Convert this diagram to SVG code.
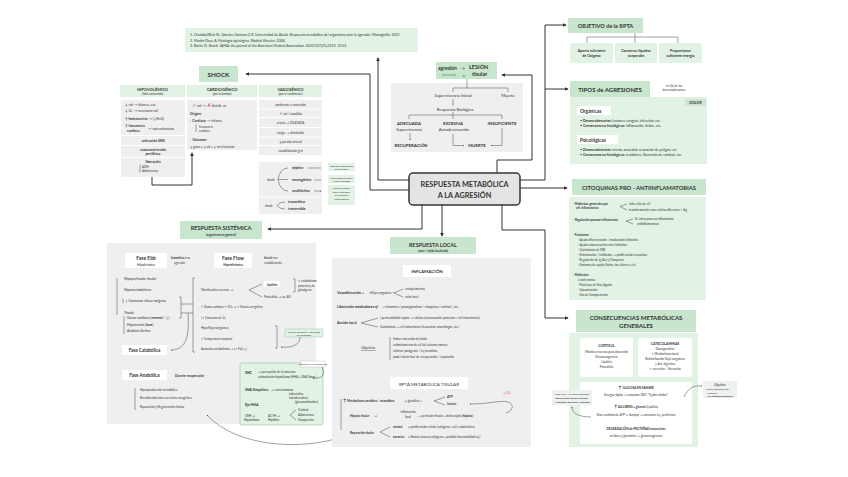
<svg xmlns="http://www.w3.org/2000/svg" width="848" height="477" viewBox="0 0 848 477">
<defs>
<marker id="ah" viewBox="0 0 6 6" refX="5" refY="3" markerWidth="4" markerHeight="4" orient="auto-start-reverse"><path d="M0,0 L6,3 L0,6 z" fill="#333"/></marker>
<marker id="as" viewBox="0 0 6 6" refX="5" refY="3" markerWidth="3" markerHeight="3" orient="auto-start-reverse"><path d="M0,0 L6,3 L0,6 z" fill="#444"/></marker>
<style>
text{font-family:Lato,'Liberation Sans',sans-serif;fill:#333}
.c{text-anchor:middle}
.b{font-weight:700}
.t6{font-size:6px;font-weight:700}
.t5{font-size:5px;font-weight:700}
.t4{font-size:4.2px}
.s{font-size:3.5px}
.xs{font-size:3px}
.gt{fill:#c8e6ce}
.gl{fill:#e2f2e4}
.gr{fill:#efefef}
.wh{fill:#fff}
.ln{fill:none;stroke:#333;stroke-width:1}
.tn{fill:none;stroke:#444;stroke-width:0.5}
.grn{fill:#3f8a55}
.red{fill:#d23a3a}
</style>
</defs>
<rect width="848" height="477" fill="#fff"/>

<g id="connectors" class="ln">
 <path d="M409,180 H378 V58" marker-end="url(#ah)"/>
 <path d="M409,190 H370 V74 H246" marker-end="url(#ah)"/>
 <path d="M497,173 V160 H532 V75 H502" marker-end="url(#ah)"/>
 <path d="M520,180 H545 V25 H566" marker-end="url(#ah)"/>
 <path d="M545,89 H568" marker-end="url(#ah)"/>
 <path d="M520,188 H567" marker-end="url(#ah)"/>
 <path d="M502,205 V230 H545 V318 H568" marker-end="url(#ah)"/>
 <path d="M422,205 V229 H268" marker-end="url(#ah)"/>
 <path d="M442,205 V236" marker-end="url(#ah)"/>
</g>

<g id="referencias">
 <rect x="185" y="28" width="233" height="24" class="gl"/>
 <text x="190" y="36" class="s">1. Cristóbal Bleír N., Sánchez Santana C.R. Universidad de Alcalá. Respuesta metabólica del organismo ante la agresión. Monografía. 2015</text>
 <text x="190" y="41.5" class="s">2. Martín-Duce A. Patología quirúrgica. Madrid: Elsevier, 2004.</text>
 <text x="190" y="47" class="s">3. Roche D. Shock. JAMA: the journal of the American Medical Association. 2022;327(21):2153- 2153.</text>
</g>

<g id="centro">
 <rect x="409" y="173" width="111" height="32" rx="4" fill="#e4e4e4" stroke="#333" stroke-width="1.5"/>
 <text x="464.5" y="186.5" class="c b" font-size="7.3">RESPUESTA METABÓLICA</text>
 <text x="464.5" y="197.5" class="c b" font-size="7.3">A LA AGRESIÓN</text>
</g>

<g id="agresion">
 <rect x="391" y="83" width="132" height="69" class="gr"/>
 <rect x="436" y="62" width="61" height="17" class="gt"/>
 <text x="438" y="70" class="b" font-size="5">agresión</text>
 <text x="460" y="70" font-size="5">→</text>
 <text x="469" y="69" class="b" font-size="5.5">LESIÓN</text>
 <text x="442" y="76" class="xs grn">(necesaria)</text>
 <text x="462" y="76.5" class="xs grn">ap</text>
 <text x="472" y="76" class="b" font-size="5.5">tisular</text>
 <path class="tn" d="M467,79 V88 M453,88 H508 M453,88 V92 M508,88 V92 M453,99 V106 M453,112 V115 M409,115 H502 M409,115 V119 M453,115 V119 M502,115 V119"/>
 <text x="453" y="97" class="c t4">Supervivencia Inicial</text>
 <text x="508" y="97" class="c t4">Muerte</text>
 <text x="455" y="111" class="c t4">Respuesta Biológica</text>
 <text x="409" y="125" class="c b" font-size="4.3">ADECUADA</text>
 <text x="409" y="131" class="c t4">Supervivencia</text>
 <path class="tn" d="M410,133 V140" marker-end="url(#as)"/>
 <text x="411" y="147" class="c b" font-size="4.3">RECUPERACIÓN</text>
 <text x="453" y="125" class="c b" font-size="4.3">EXCESIVA</text>
 <text x="454" y="131" class="c t4">Autodestrucción</text>
 <text x="502" y="125" class="c b" font-size="4.3">INSUFICIENTE</text>
 <text x="477" y="147" class="c b" font-size="4.3">MUERTE</text>
 <path class="tn" d="M453,134 V145.5 H464" marker-end="url(#as)"/>
 <path class="tn" d="M502,128 V145.5 H491" marker-end="url(#as)"/>
</g>

<g id="shock">
 <rect x="199" y="66" width="39" height="16" class="gt"/>
 <text x="218.5" y="76.5" class="c b" font-size="6.3">SHOCK</text>
 <rect x="120" y="85" width="65" height="12" class="gl"/>
 <text x="152.5" y="90.5" class="c b" font-size="4">HIPOVOLÉMICO</text>
 <text x="152.5" y="95" class="c xs">(falta contenido)</text>
 <rect x="187" y="85" width="70" height="12" class="gl"/>
 <text x="222" y="90.5" class="c b" font-size="4">CARDIOGÉNICO</text>
 <text x="222" y="95" class="c xs">(por la bomba)</text>
 <rect x="259" y="85" width="63" height="12" class="gl"/>
 <text x="290.5" y="90.5" class="c b" font-size="4">VASOGÉNICO</text>
 <text x="290.5" y="95" class="c xs">(por el continente)</text>

 <rect x="121" y="100" width="64" height="77" class="gr"/>
 <path d="M121,135.5 H185 M121,145.5 H185 M121,157.5 H185" stroke="#fff" stroke-width="1"/>
 <text x="125" y="106" class="s"><tspan class="b">↓</tspan> vol → diarrea, etc.</text>
 <text x="125" y="112" class="s"><tspan class="b">↓</tspan> O₂ → necesario vol</text>
 <text x="125" y="120" class="s"><tspan class="b">↑ hematocrito</tspan> → (↓H₂O)</text>
 <text x="125" y="127" class="s b">↑ frecuencia</text>
 <text x="127" y="131.5" class="s b">cardíaca</text>
 <text x="148" y="129.5" class="s">→ catecolaminas</text>
 <text x="153" y="142" class="c s b">activación SNS</text>
 <text x="153" y="150.5" class="c s b">vasoconstricción</text>
 <text x="153" y="155" class="c s b">periférica</text>
 <text x="153" y="162.5" class="c s b">liberación</text>
 <path class="tn" d="M140,164.5 V172.5"/>
 <text x="142" y="167.5" class="xs">ADH</text>
 <text x="142" y="172" class="xs">Aldosterona</text>
 <path class="ln" d="M152,177 V185 H192 V153" marker-end="url(#ah)"/>

 <rect x="187" y="100" width="70" height="50" class="gr"/>
 <text x="192" y="107" class="s"><tspan class="grn" font-size="5">✓</tspan> vol → <tspan class="red" font-size="5">✗</tspan> distrib. ac</text>
 <text x="190" y="114.5" class="s b">Origen:</text>
 <text x="190" y="121.5" class="s">- <tspan class="b">Cardíaco</tspan> → infarto</text>
 <path class="tn" d="M196,124.5 V132"/>
 <text x="199" y="127.5" class="xs">frecuencia</text>
 <text x="199" y="132" class="xs">cardíaca</text>
 <text x="190" y="140.5" class="s">- <tspan class="b">Volumen:</tspan></text>
 <text x="190" y="147.5" class="xs"><tspan class="b">↓</tspan> gasto = <tspan class="b">↓</tspan> vol = <tspan class="b">↓</tspan> vol al corazón</text>

 <rect x="259" y="100" width="63" height="55" class="gr"/>
 <path d="M259,109 H322 M259,117.5 H322 M259,127.5 H322 M259,137 H322 M259,145.5 H322" stroke="#fff" stroke-width="1"/>
 <text x="290.5" y="106" class="c xs">continente ≠ contenido</text>
 <text x="290.5" y="114.5" class="c xs"><tspan class="grn" font-size="5">✓</tspan> vol / vasodilat.</text>
 <text x="290.5" y="124" class="c xs">arteria → DILATADA</text>
 <text x="290.5" y="133.5" class="c xs">sangre → distribuida</text>
 <text x="290.5" y="142.5" class="c xs"><tspan class="b">↓</tspan> presión arterial</text>
 <text x="290.5" y="151.5" class="c xs">vasodilatación gral</text>

 <rect x="259" y="162" width="63" height="52" class="gr"/>
 <path d="M259,197 H322" stroke="#fff" stroke-width="1"/>
 <text x="267" y="181" class="xs">shock</text>
 <path class="tn" d="M288,168 Q280,168 278,179.5 Q280,191 288,191 M278,179.5 H288"/>
 <text x="292" y="169" class="s b">séptico</text>
 <text x="292" y="180.5" class="s b">neurogénico</text>
 <text x="292" y="192" class="s b">anafiláctico</text>
 <path class="tn" d="M308,168 H321 M314,180 H321 M314,191 H321" marker-end="url(#as)"/>
 <text x="265" y="207" class="xs">shock</text>
 <path class="tn" d="M285,202 Q279,202 277,205.5 Q279,209 285,209"/>
 <text x="288" y="203" class="s b">traumático</text>
 <text x="288" y="210" class="s b">irreversible</text>

 <rect x="328" y="163" width="27" height="8" class="gl"/>
 <text x="341.5" y="166.5" class="c" font-size="2.4">respuesta inflamatoria</text>
 <text x="341.5" y="169.5" class="c" font-size="2.4">por infección</text>
 <rect x="328" y="175" width="27" height="8" class="gl"/>
 <text x="341.5" y="178.5" class="c" font-size="2.4">lesión médula espinal</text>
 <text x="341.5" y="181.5" class="c" font-size="2.4">↓ tono simpático</text>
 <rect x="328" y="185" width="27" height="20" class="gl"/>
 <text x="341.5" y="189" class="c" font-size="2.4">reacción alérgica</text>
 <text x="341.5" y="192.5" class="c" font-size="2.4">grave: liberación</text>
 <text x="341.5" y="196" class="c" font-size="2.4">de histamina</text>
 <text x="341.5" y="199.5" class="c" font-size="2.4">vasodilatación</text>
</g>

<g id="objetivo">
 <rect x="568" y="18" width="75" height="15" class="gt"/>
 <text x="605.5" y="28" class="c b" font-size="5.6">OBJETIVO de la RPTA</text>
 <path class="tn" d="M635,33 V37 M587,37 H678 M587,37 V43 M635,37 V43 M678,37 V43"/>
 <rect x="570" y="43" width="43" height="20" rx="2" class="gl"/>
 <text x="591.5" y="52" class="c b" font-size="3.6">Aporte suficiente</text>
 <text x="591.5" y="56.5" class="c b" font-size="3.6">de Oxígeno</text>
 <rect x="615" y="43" width="42" height="20" rx="2" class="gl"/>
 <text x="636" y="52" class="c b" font-size="3.6">Conservar líquidos</text>
 <text x="636" y="56.5" class="c b" font-size="3.6">corporales</text>
 <rect x="659" y="43" width="43" height="20" rx="2" class="gl"/>
 <text x="680.5" y="52" class="c b" font-size="3.6">Proporcionar</text>
 <text x="680.5" y="56.5" class="c b" font-size="3.6">suficiente energía</text>
</g>

<g id="tipos">
 <rect x="570" y="81" width="80" height="16" class="gt"/>
 <text x="610" y="91.5" class="c b" font-size="6">TIPOS de AGRESIONES</text>
 <text x="674" y="87" class="c xs">en f(x) de los</text>
 <text x="674" y="91" class="c xs">desencadenantes</text>
 <rect x="570" y="97" width="137" height="67" class="gl"/>
 <rect x="685" y="99" width="21" height="7" fill="#cfe6d4"/>
 <text x="695.5" y="104" class="c b" font-size="3.6">DOLOR</text>
 <rect x="577" y="106" width="34" height="9" class="wh"/>
 <text x="580" y="112.5" class="b" font-size="4.8">Orgánicas</text>
 <text x="580" y="121.5" class="s">• <tspan class="b">Desencadenantes:</tspan> lesiones, cirugías, infección, etc.</text>
 <text x="580" y="126.5" class="s">• <tspan class="b">Consecuencias fisiológicas:</tspan> inflamación, fiebre, etc.</text>
 <rect x="577" y="135" width="41" height="9" class="wh"/>
 <text x="580" y="141.5" class="b" font-size="4.8">Psicológicas</text>
 <text x="580" y="150.5" class="s">• <tspan class="b">Desencadenantes:</tspan> miedo, ansiedad, sensación de peligro, etc.</text>
 <text x="580" y="155.5" class="s">• <tspan class="b">Consecuencias fisiológicas:</tspan> temblores, liberación de cortisol, etc.</text>
</g>

<g id="citoquinas">
 <rect x="572" y="179" width="134" height="16" class="gt"/>
 <text x="639" y="190" class="c b" font-size="5.8">CITOQUINAS PRO - ANTIINFLAMATORIAS</text>
 <rect x="569" y="197" width="137" height="103" class="gl"/>
 <text x="573" y="205" class="xs b">- Moléculas generadas por</text>
 <text x="576" y="209" class="xs b">cél. inflamatorias</text>
 <path class="tn" d="M620,206.5 L627,204 M620,206.5 L627,210"/>
 <text x="629" y="205" class="xs">vida a f(x) de cél.</text>
 <text x="629" y="210.5" class="xs">transformación entre células diferentes ~ Ag</text>
 <text x="573" y="221" class="xs">- <tspan class="b">Regulación proceso inflamatorio</tspan></text>
 <path class="tn" d="M626,221 L633,219 M626,221 L633,224"/>
 <text x="635" y="220" class="xs">Se inicia proceso inflamatorio</text>
 <text x="637" y="225" class="xs">antiinflamatorias</text>
 <text x="573" y="235.5" class="xs b">- Funciones:</text>
 <text x="578" y="241" class="xs">· Ayuda diferenciación / maduración linfocitos</text>
 <text x="578" y="246" class="xs">· Ayuda comunicación entre linfocitos</text>
 <text x="578" y="251" class="xs">· Quimiotaxis de MΦ</text>
 <text x="578" y="256" class="xs">· Estimulación / Inhibición → proliferación leucocitos</text>
 <text x="578" y="261" class="xs">· Regulación de Ig (Ac) y Citoquinas</text>
 <text x="578" y="266" class="xs">· Síntomas de ayuda (fiebre, tos, diarrea, etc)</text>
 <text x="573" y="276" class="xs b">- Moléculas:</text>
 <text x="578" y="281" class="xs">⌂ defensinas</text>
 <text x="578" y="286" class="xs">· Proteínas de Fase Aguda</text>
 <text x="578" y="291" class="xs">· Opsonización</text>
 <text x="578" y="296" class="xs">· Sist de Complemento</text>
</g>

<g id="consecuencias">
 <rect x="576" y="310" width="120" height="22" class="gt"/>
 <text x="636" y="319.5" class="c b" font-size="6">CONSECUENCIAS METABÓLICAS</text>
 <text x="636" y="327.5" class="c b" font-size="6">GENERALES</text>
 <rect x="569" y="333" width="129" height="114" class="gl"/>
 <rect x="580" y="338" width="53" height="39" rx="2" class="wh"/>
 <text x="606.5" y="347" class="c b" font-size="3.4">CORTISOL</text>
 <text x="606.5" y="353" class="c xs">Moviliza reservas para obtención</text>
 <text x="606.5" y="358" class="c xs">Gluconeogénesis</text>
 <text x="606.5" y="363" class="c xs">Lipólisis</text>
 <text x="606.5" y="368" class="c xs">Proteólisis</text>
 <rect x="638" y="338" width="54" height="39" rx="2" class="wh"/>
 <text x="665" y="344.5" class="c b" font-size="3.4">CATECOLAMINAS</text>
 <text x="665" y="350" class="c xs">Glucogenólisis</text>
 <text x="665" y="355" class="c xs">↑ Metabolismo basal</text>
 <text x="665" y="360" class="c xs">Redistribución flujo sanguíneo</text>
 <text x="665" y="365" class="c xs">↓ Act. digestiva</text>
 <text x="665" y="370" class="c xs">↑ secreción / liberación</text>
 <rect x="580" y="382" width="112" height="62" rx="2" class="wh"/>
 <text x="636" y="389" class="c xs b"><tspan font-size="4.5">↑</tspan> GLUCOSA EN SANGRE</text>
 <text x="636" y="396" class="c xs">Energía rápida → consumo: SNC "Tejidos ávidos"</text>
 <text x="636" y="408" class="c xs b"><tspan font-size="4.5">↑</tspan> AG LIBRES + glicerol <tspan font-weight="400">(Lipólisis)</tspan></text>
 <text x="636" y="415.5" class="c xs">Gran cantidad de ATP (+ tiempo) → consumo: tej. periféricos</text>
 <text x="636" y="430" class="c xs b">DEGRADACIÓN de PROTEÍNAS musculares</text>
 <text x="636" y="437" class="c xs">aa libres y glutamina → gluconeogénesis</text>
 <rect x="552" y="390" width="40" height="15" fill="#eef1ef"/>
 <text x="554" y="394.5" font-size="2.6">Acetil-CoA / cuerpos cetónicos</text>
 <text x="554" y="398.5" font-size="2.6" class="b">- Reserva para tejido cerebral</text>
 <text x="554" y="402.5" font-size="2.6" class="b">- Consumo muscular y lipolítico</text>
 <path class="tn" d="M591,417 C580,417 572,414 572,407" marker-end="url(#as)"/>
 <rect x="703" y="381" width="34" height="17" fill="#eef1ef"/>
 <text x="720" y="386" class="c" font-size="3">Objetivo:</text>
 <text x="706" y="390" font-size="2.6">ayuda obtención de:</text>
 <text x="706" y="394" font-size="2.6">- Glucosa</text>
 <text x="706" y="397" font-size="2.6" class="b">- Glc hepática/muscular</text>
 <path class="tn" d="M684,397 C688,388 694,385 702,386" marker-end="url(#as)"/>
</g>

<g id="sistemica">
 <rect x="107" y="243" width="209" height="181" class="gr"/>
 <rect x="180" y="221" width="82" height="18" class="gt"/>
 <text x="221" y="230" class="c b" font-size="5.6">RESPUESTA SISTÉMICA</text>
 <text x="221" y="235.5" class="c xs b">(organismo en general)</text>

 <rect x="125" y="253" width="42" height="15" class="wh"/>
 <text x="146" y="260" class="c b" font-size="5">Fase Ebb</text>
 <text x="146" y="265.5" class="c xs">Hipodinámica</text>
 <text x="171" y="259" class="xs"><tspan class="b">Inmediata</tspan> tras</text>
 <text x="174" y="263.5" class="xs">agresión</text>
 <path class="tn" d="M117,278 V315"/>
 <text x="124" y="280" class="s">Hipoperfusión tisular</text>
 <text x="124" y="290.5" class="s">Hipometabolismo</text>
 <path class="tn" d="M123,298.5 V303.5"/>
 <text x="125" y="302" class="s">↓ Consumo eficaz oxígeno</text>
 <text x="124" y="314" class="s">Tríada:</text>
 <path class="tn" d="M124,316 V334"/>
 <text x="127" y="319" class="s">Gasto cardíaco (<tspan class="b">normal</tspan> / ↓)</text>
 <text x="127" y="325.5" class="s">Hipotermia (<tspan class="b">leve</tspan>)</text>
 <text x="127" y="332" class="s">Acidosis láctica</text>
 <path class="tn" d="M179,297 H181 V318 H179 M181,304 H193 M181,313 H193 M195,278 H193 V352 H195"/>
 <path class="tn" d="M188,313 C190,340 184,350 171,350" marker-end="url(#as)"/>
 <rect x="122" y="345" width="45" height="10" class="wh"/>
 <text x="144.5" y="352" class="c b" font-size="4.6">Fase Catabólica</text>

 <rect x="214" y="253" width="38" height="15" class="wh"/>
 <text x="233" y="260" class="c b" font-size="5">Fase Flow</text>
 <text x="233" y="265.5" class="c xs b">Hiperdinámica</text>
 <text x="264" y="259" class="xs"><tspan class="b">Inicial</tspan> tras</text>
 <text x="264" y="263.5" class="xs">estabilización</text>
 <text x="201" y="291" class="xs">Movilización reservas →</text>
 <path class="tn" d="M249,290 L262,284 M249,290 L262,297"/>
 <rect x="264" y="281" width="16" height="6" class="wh"/>
 <text x="272" y="285.5" class="c xs b">Lipólisis</text>
 <path class="tn" d="M293,279 H295 V292 H293"/>
 <text x="298" y="282" class="xs">↑ catabolismo</text>
 <text x="298" y="286.5" class="xs">proteico y de</text>
 <text x="298" y="291" class="xs">glucógeno</text>
 <text x="264" y="298" class="xs">Proteólisis → aa, AG</text>
 <text x="201" y="308" class="xs">↑ Gasto cardíaco ↑ VO₂ → ↑ Gasto energético</text>
 <text x="201" y="318.5" class="xs">[↑ Consumo de O₂</text>
 <text x="201" y="329" class="xs">Hiperflujo sanguíneo</text>
 <text x="201" y="339.5" class="xs">↑ Temperatura corporal</text>
 <text x="201" y="350" class="xs">Aumento catabolismo → [↑ F(x) ↓]</text>
 <path class="tn" d="M275,326 H277 V348 H275"/>
 <rect x="285" y="329" width="38" height="8" rx="1" class="gl" stroke="#7fb88f" stroke-width="0.4"/>
 <text x="304" y="332.5" class="c" font-size="2.5">hacia el consumo y liberación</text>
 <text x="304" y="335.5" class="c" font-size="2.5">de hormonas</text>
 <path class="tn" d="M300,337 C300,345 292,348 281,347" marker-end="url(#as)"/>

 <rect x="240" y="363" width="83" height="62" rx="2" class="gl" stroke="#7fb88f" stroke-width="0.5"/>
 <rect x="301" y="361" width="24" height="6" fill="#fff" stroke="#aaa" stroke-width="0.3"/>
 <text x="313" y="365" class="c" font-size="2.4">Regulación neuroendocrina</text>
 <path class="tn" d="M322,367 C326,375 322,379 313,378" marker-end="url(#as)"/>
 <text x="245" y="374" class="s b">SNC</text>
 <text x="258" y="373" class="xs">→ percepción de la amenaza</text>
 <text x="258" y="378" class="xs">estimulación hipotálamo (HHA + SNA Simp.)</text>
 <text x="245" y="391" class="s b">SNA Simpático</text>
 <text x="271" y="390.5" class="xs">→ catecolaminas</text>
 <text x="289" y="395" class="xs">(adrenalina</text>
 <text x="289" y="399" class="xs">noradrenalina)</text>
 <text x="245" y="406" class="s b">Eje HHA</text>
 <text x="295" y="403" class="xs">(glucocorticoides)</text>
 <text x="245" y="416.5" class="xs">CRH  → </text>
 <text x="244" y="421" class="xs">Hipotálamo</text>
 <text x="268" y="416.5" class="xs">ACTH →</text>
 <text x="268" y="421" class="xs">Hipófisis</text>
 <path class="tn" d="M290,415 L296,410 M290,415 L296,420"/>
 <text x="298" y="411" class="xs">Cortisol</text>
 <text x="298" y="416" class="xs">Aldosterona</text>
 <text x="298" y="420.5" class="xs">Vasopresina</text>

 <rect x="122" y="370" width="45" height="10" class="wh"/>
 <text x="144.5" y="377" class="c b" font-size="4.6">Fase Anabólica</text>
 <text x="175" y="377" class="xs b">Durante recuperación</text>
 <path class="tn" d="M135,388 V410"/>
 <text x="140" y="391" class="xs">Hiperproducción metabólica</text>
 <text x="140" y="399" class="xs">Restablecimiento reservorio energético</text>
 <text x="140" y="408" class="xs">Reparación y Regeneración tisular</text>
 <path class="tn" d="M345,436 C300,452 235,446 207,415" marker-start="url(#as)" marker-end="url(#as)"/>
</g>

<g id="local">
 <rect x="332" y="258" width="199" height="189" class="gr"/>
 <rect x="390" y="237" width="86" height="17" class="gt"/>
 <text x="433" y="246.5" class="c b" font-size="5.4">RESPUESTA LOCAL</text>
 <text x="433" y="251.5" class="c" font-size="2.8" font-weight="700">(zona / tejido localizado)</text>
 <rect x="403" y="265" width="48" height="12" class="wh"/>
 <text x="427" y="273" class="c b" font-size="4.5">INFLAMACIÓN</text>

 <text x="337" y="294" class="b" font-size="3.7">Vasodilatación</text>
 <text x="361" y="294" class="xs">→</text>
 <text x="369" y="294" class="xs"><tspan class="b">↑</tspan>flujo sanguíneo ~</text>
 <path class="tn" d="M394,293 L403,289 M394,293 L403,297"/>
 <text x="405" y="290" class="xs">enrojecimiento</text>
 <text x="405" y="298" class="xs">calor local</text>
 <text x="337" y="308" class="b" font-size="3.7">Liberación mediadores q°</text>
 <text x="382" y="308" class="xs">→  histamina / prostaglandinas / citoquinas / cortisol / etc.</text>
 <text x="337" y="324" class="b" font-size="3.7">Acción local</text>
 <path class="tn" d="M361,323 L378,318 M361,323 L378,327"/>
 <text x="380" y="319" class="xs">[ permeabilidad capilar → edema (extravasación proteínas / cél inmunitarias)</text>
 <text x="380" y="327.5" class="xs">Quimiotaxis   →   cél inmunitarias (leucocitos, macrófagos, etc.)</text>
 <text x="361" y="349" font-size="3.6" fill="#3f8a55" text-decoration="underline">Objetivo:</text>
 <path class="tn" d="M390,337 V360"/>
 <text x="393" y="340" class="xs">limitar extensión del daño</text>
 <text x="393" y="346" class="xs">estimulamiento de cél del sistema inmune</text>
 <text x="393" y="352" class="xs">eliminar patógenos / tej necrótico</text>
 <text x="393" y="358" class="xs">poder iniciar fase de recuperación / reparación</text>

 <rect x="390" y="377" width="78" height="12" class="wh"/>
 <text x="429" y="385.5" class="c" font-size="4.6">RPTA METABÓLICA TISULAR</text>
 <path class="tn" d="M341,399 V430"/>
 <text x="343" y="402" class="xs b"><tspan font-size="4.5">↑</tspan> Metabolismo aeróbico / anaeróbico</text>
 <text x="404" y="402" class="xs">→  glucólisis +</text>
 <path class="tn" d="M434,401 L445,397 M434,401 L445,405"/>
 <text x="447" y="398" class="xs b">ATP</text>
 <text x="447" y="405" class="xs b">lactato</text>
 <text x="503" y="394" class="red" font-size="3.4">↓ O₂</text>
 <path class="tn" d="M506,413 C514,410 514,404 508,402 C500,400 490,404 470,404" marker-end="url(#as)"/>
 <text x="350" y="417" class="xs b">Hipoxia tisular</text>
 <text x="374" y="417" class="xs">→</text>
 <text x="408" y="413" class="c xs">inflamación</text>
 <text x="408" y="418" class="c xs">local</text>
 <text x="418" y="417" class="xs">→  perfusión tisular + daño tejido (<tspan class="b">hipoxia</tspan>)</text>
 <text x="350" y="433.5" class="xs b">Reparación tisular</text>
 <path class="tn" d="M380,432 L390,427 M380,432 L390,437"/>
 <text x="393" y="428" class="xs b">normal</text>
 <text x="393" y="438" class="xs b">excesiva</text>
 <text x="408" y="428" class="xs">=  proliferación celular (colágeno + cél. endoteliales)</text>
 <text x="408" y="438" class="xs">=  fibrosis (exceso colágeno + pérdida funcionalidad tej.)</text>
</g>
</svg>
